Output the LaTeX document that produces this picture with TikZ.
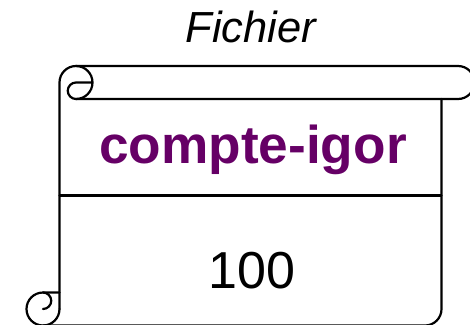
\documentclass[tikz,border=0pt]{standalone}
\usepackage{fontspec}
\setmainfont{Liberation Sans}
\definecolor{purp}{RGB}{102,0,102}
\begin{document}
\begin{tikzpicture}[x=1pt,y=-1pt,
  scrollline/.style={draw=black,line width=2.2pt,line join=round,line cap=round},
  label/.style={inner sep=0pt,anchor=base}]
\useasboundingbox (0,0) rectangle (470,324);
% body outline with top roll
\draw[scrollline] (59.5,309) -- (59.5,82.5) arc[start angle=180,end angle=270,radius=16.5]
  -- (458,66) arc[start angle=-90,end angle=90,radius=16.5] -- (76,99);
% top-left curl
\draw[scrollline] (76,66) arc[start angle=-90,end angle=90,radius=16.5]
  arc[start angle=90,end angle=270,radius=8.25] -- (92.5,82.5);
% right side and bottom
\draw[scrollline] (441.5,99) -- (441.5,309) arc[start angle=0,end angle=90,radius=16.5] -- (43,325.5);
% bottom-left curl
\draw[scrollline] (59.5,309) arc[start angle=0,end angle=270,radius=16.5] -- (59.5,292.5);
\draw[scrollline] (43,292.5) arc[start angle=-90,end angle=90,radius=8.25];
% divider
\draw[scrollline] (59.5,195.5) -- (441.5,195.5);
% texts
\node[label,font=\fontsize{43.5}{43.5}\selectfont\itshape] (title) at (251,42.3) {Fichier};
\node[label,font=\fontsize{53.2}{53.2}\selectfont\bfseries,text=purp] (name) at (253,163) {compte-igor};
\node[label,font=\fontsize{52}{52}\selectfont] (value) at (252,288) {100};
\end{tikzpicture}
\end{document}
